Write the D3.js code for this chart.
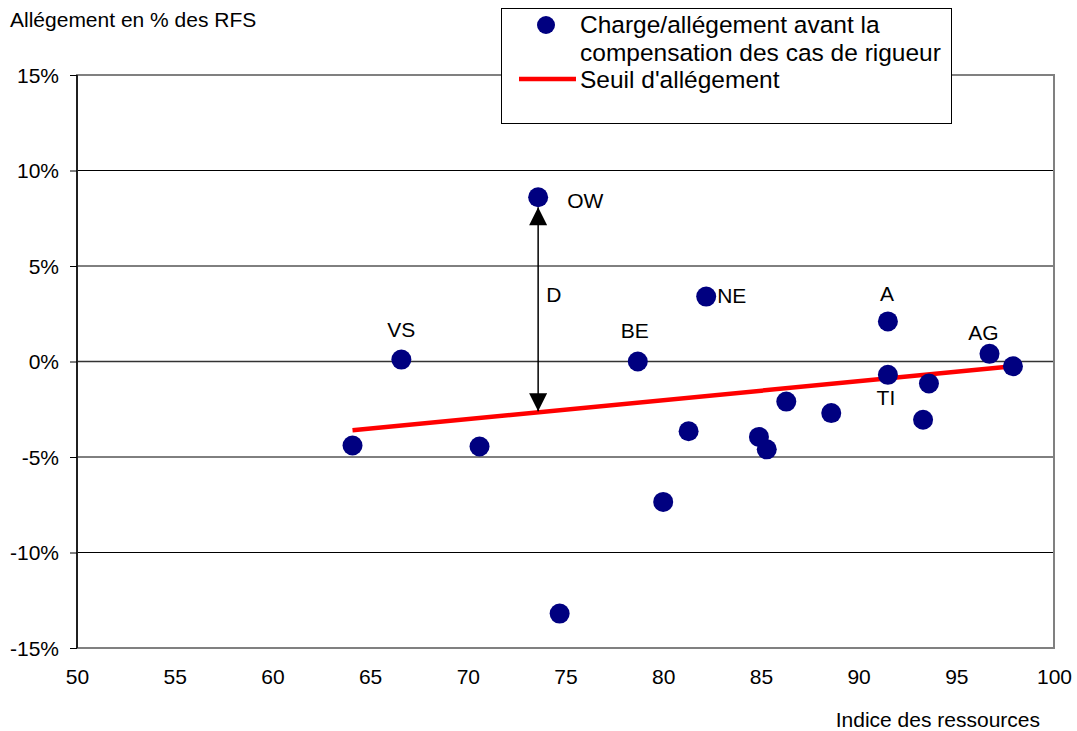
<!DOCTYPE html>
<html>
<head>
<meta charset="utf-8">
<script src="https://cdn.jsdelivr.net/npm/d3@7"></script>
<style>
  body { margin: 0; background: #fff; }
  text { font-family: "Liberation Sans", Arial, sans-serif; fill: #000; }
</style>
</head>
<body>
<div id="chart"></div>
<script>
// donnees
const indice = [64.1, 66.6, 70.6, 73.6, 74.7, 78.7, 80.0, 81.3, 82.2, 84.9, 85.3, 86.3, 88.6, 91.5, 91.5, 93.3, 93.6, 96.7, 97.9];
const allegement = [-4.4, 0.1, -4.45, 8.6, -13.2, 0.0, -7.35, -3.65, 3.4, -3.95, -4.6, -2.1, -2.7, 2.1, -0.7, -3.05, -1.15, 0.4, -0.25];
const etiquettes = ["", "VS", "", "OW", "", "BE", "", "", "NE", "", "", "", "", "A", "TI", "", "", "AG", ""];
// seuil d'allegement (debut, fin)
const seuilX = [64.1, 97.9];
const seuilY = [-3.6, -0.25];
const xTicks = [50, 55, 60, 65, 70, 75, 80, 85, 90, 95, 100];
const yTicks = [-15, -10, -5, 0, 5, 10, 15];

const width = 1077, height = 731;
const margin = { top: 75, right: 23, bottom: 83, left: 77 };
const chartW = width - margin.left - margin.right;
const chartH = height - margin.top - margin.bottom;

const svg = d3.select("#chart").append("svg")
  .attr("width", width)
  .attr("height", height);

svg.append("defs").append("marker")
  .attr("id", "tete")
  .attr("viewBox", "0 0 10 10")
  .attr("refX", 10).attr("refY", 5)
  .attr("markerWidth", 20).attr("markerHeight", 18)
  .attr("markerUnits", "userSpaceOnUse")
  .attr("orient", "auto-start-reverse")
  .append("path").attr("d", "M0,0 L10,5 L0,10 Z").attr("fill", "#000");

const g = svg.append("g").attr("transform", `translate(${margin.left},${margin.top})`);

const x = d3.scaleLinear().domain([50, 100]).range([0, chartW]);
const y = d3.scaleLinear().domain([-15, 15]).range([chartH, 0]);

// lignes horizontales
g.selectAll("line.grid")
  .data(yTicks.filter(d => d > -15 && d < 15))
  .enter().append("line")
  .attr("class", "grid")
  .attr("x1", 0).attr("x2", chartW)
  .attr("y1", d => y(d)).attr("y2", d => y(d))
  .attr("stroke", d => d === 0 ? "#333" : "#000")
  .attr("stroke-width", d => d === 0 ? 1.3 : 1);

// cadre gris
g.append("rect")
  .attr("x", 0).attr("y", 0)
  .attr("width", chartW).attr("height", chartH)
  .attr("fill", "none")
  .attr("stroke", "#808080")
  .attr("stroke-width", 2);

// axe y
const yAxis = d3.axisLeft(y).tickValues(yTicks).tickSize(7).tickFormat(d => d + "%");
const gy = g.append("g").call(yAxis);
gy.select(".domain").attr("stroke", "#000").attr("stroke-width", 1.5).attr("d", `M0,0V${chartH}`);
gy.selectAll(".tick line").attr("stroke", "#000");
gy.selectAll(".tick text")
  .attr("x", -18).attr("dy", "0.35em")
  .style("font-size", "21px")
  .style("font-family", "Liberation Sans, Arial, sans-serif");

// axe x (seulement les etiquettes)
const xAxis = d3.axisBottom(x).tickValues(xTicks).tickSize(0);
const gx = g.append("g").attr("transform", `translate(0,${chartH})`).call(xAxis);
gx.select(".domain").remove();
gx.selectAll(".tick text")
  .attr("y", 29).attr("dy", "0.35em")
  .style("font-size", "21px")
  .style("font-family", "Liberation Sans, Arial, sans-serif");

// seuil
g.append("line")
  .attr("x1", x(seuilX[0])).attr("y1", y(seuilY[0]))
  .attr("x2", x(seuilX[1])).attr("y2", y(seuilY[1]))
  .attr("stroke", "#ff0000")
  .attr("stroke-width", 4.5);

// fleche D entre OW et le seuil
const ow = etiquettes.indexOf("OW");
const pente = (seuilY[1] - seuilY[0]) / (seuilX[1] - seuilX[0]);
const seuilOW = seuilY[0] + (indice[ow] - seuilX[0]) * pente;
g.append("line")
  .attr("x1", x(indice[ow])).attr("x2", x(indice[ow]))
  .attr("y1", y(allegement[ow]) + 10)
  .attr("y2", y(seuilOW) - 1)
  .attr("stroke", "#000")
  .attr("stroke-width", 1.5)
  .attr("marker-start", "url(#tete)")
  .attr("marker-end", "url(#tete)");
g.append("text")
  .attr("x", x(indice[ow]) + 8)
  .attr("y", (y(allegement[ow]) + y(seuilOW)) / 2 - 10)
  .attr("dy", "0.35em")
  .style("font-size", "21px")
  .text("D");

// points
g.selectAll("circle.pt")
  .data(indice)
  .enter().append("circle")
  .attr("class", "pt")
  .attr("cx", d => x(d))
  .attr("cy", (d, i) => y(allegement[i]))
  .attr("r", 10)
  .attr("fill", "#000080");

// etiquettes des cantons
const decal = { VS: [0, -30], OW: [29, 3], BE: [-3, -31], NE: [11, -1], A: [-1, -28], TI: [-2, 23], AG: [-6, -21] };
g.selectAll("text.lab")
  .data(indice.map((d, i) => ({ x: d, y: allegement[i], t: etiquettes[i] })).filter(d => d.t))
  .enter().append("text")
  .attr("class", "lab")
  .attr("x", d => x(d.x) + decal[d.t][0])
  .attr("y", d => y(d.y) + decal[d.t][1])
  .attr("dy", "0.35em")
  .attr("text-anchor", d => (d.t === "OW" || d.t === "NE") ? "start" : "middle")
  .style("font-size", "21px")
  .text(d => d.t);

// titres des axes
svg.append("text")
  .attr("x", 10).attr("y", 27)
  .style("font-size", "21px")
  .text("Allégement en % des RFS");
svg.append("text")
  .attr("x", 1040).attr("y", 727)
  .attr("text-anchor", "end")
  .style("font-size", "21px")
  .text("Indice des ressources");

// legende
const leg = svg.append("g");
leg.append("rect")
  .attr("x", 501.5).attr("y", 8.5)
  .attr("width", 450).attr("height", 115)
  .attr("fill", "#fff")
  .attr("stroke", "#000")
  .attr("stroke-width", 1);
leg.append("circle").attr("cx", 546).attr("cy", 25).attr("r", 9).attr("fill", "#000080");
leg.append("text").attr("x", 580).attr("y", 33).style("font-size", "24.5px").text("Charge/allégement avant la");
leg.append("text").attr("x", 580).attr("y", 61).style("font-size", "24.5px").text("compensation des cas de rigueur");
leg.append("line")
  .attr("x1", 519).attr("x2", 576).attr("y1", 79).attr("y2", 79)
  .attr("stroke", "#ff0000").attr("stroke-width", 4.5);
leg.append("text").attr("x", 580).attr("y", 88).style("font-size", "24.5px").text("Seuil d'allégement");
</script>
</body>
</html>
